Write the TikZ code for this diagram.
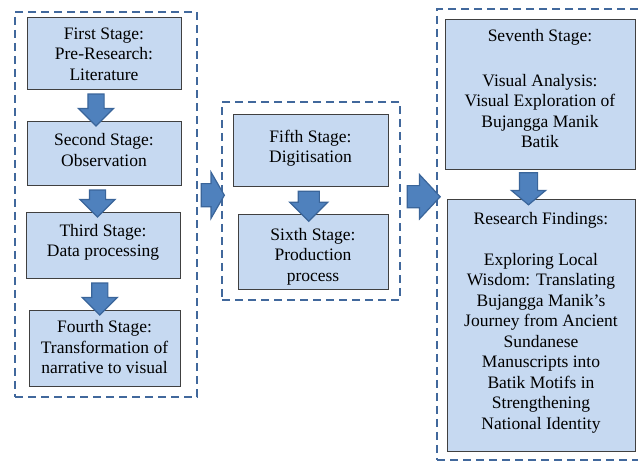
\documentclass[tikz,border=0pt]{standalone}
\usepackage{fontspec}
\setmainfont{Liberation Serif}
\newfontfamily\stagefont{Liberation Serif}
\usetikzlibrary{shapes.arrows,calc}
\definecolor{boxfill}{HTML}{C6D9F1}
\definecolor{boxline}{HTML}{404040}
\definecolor{arrfill}{HTML}{4F81BD}
\definecolor{arrline}{HTML}{3A659A}
\definecolor{dashline}{HTML}{41689C}
\begin{document}
\begin{tikzpicture}[x=1pt,y=-1pt,
  stagebox/.style={draw=boxline, line width=1pt, fill=boxfill, inner sep=0pt},
  stagetext/.style={align=center, inner sep=0pt,
    font=\stagefont\fontsize{17.5}{20.5}\selectfont},
  group/.style={draw=dashline, line width=2pt, dash pattern=on 8pt off 5pt,
    inner sep=0pt},
  blockarrow/.style={single arrow, draw=arrline, fill=arrfill, line width=1.2pt,
    inner sep=0pt}]
\useasboundingbox (0,0) rectangle (638,462);
\fill[white] (0,0) rectangle (638,462);

% dashed groups
\node[group, minimum width=182pt, minimum height=385pt] (g1) at (106,204.5) {};
\node[group, minimum width=178pt, minimum height=198pt] (g2) at (311,201) {};
\begin{scope}
\clip (0,0) rectangle (638,462);
\node[group, minimum width=213pt, minimum height=451pt] (g3) at (543.5,234.5) {};
\end{scope}

% stage boxes
\node[stagebox, minimum width=154pt, minimum height=72pt] (b1) at (104,54) {};
\node[stagebox, minimum width=154pt, minimum height=64pt] (b2) at (104,154) {};
\node[stagebox, minimum width=154pt, minimum height=66pt] (b3) at (103,246) {};
\node[stagebox, minimum width=151pt, minimum height=76pt] (b4) at (104.5,349) {};
\node[stagebox, minimum width=155pt, minimum height=72pt] (b5) at (310.5,151) {};
\node[stagebox, minimum width=150pt, minimum height=75pt] (b6) at (313,252.5) {};
\node[stagebox, minimum width=190pt, minimum height=150pt] (b7) at (540,95) {};
\node[stagebox, minimum width=188pt, minimum height=252pt] (b8) at (541,326) {};

% texts
\node[stagetext] (t1) at ($(b1.center)+(0,0)$) {First Stage:\\Pre-Research:\\Literature};
\node[stagetext] (t2) at ($(b2.center)+(0,-4)$) {Second Stage:\\Observation};
\node[stagetext] (t3) at ($(b3.center)+(0,-3.5)$) {Third Stage:\\Data processing};
\node[stagetext] (t4) at ($(b4.center)+(0,-1.5)$) {Fourth Stage:\\Transformation of\\narrative to visual};
\node[stagetext] (t5) at ($(b5.center)+(0,-3)$) {Fifth Stage:\\Digitisation};
\node[stagetext] (t6) at ($(b6.center)+(0,4)$) {Sixth Stage:\\Production\\process};
\node[stagetext] (t7) at ($(b7.center)+(0,-6)$)
  {Seventh Stage:\\[24pt]Visual Analysis:\\Visual Exploration of\\Bujangga Manik\\Batik};
\node[stagetext] (t8) at ($(b8.center)+(0,-3)$)
  {Research Findings:\\[20pt]Exploring Local\\Wisdom: Translating\\Bujangga Manik’s\\Journey from Ancient\\Sundanese\\Manuscripts into\\Batik Motifs in\\Strengthening\\National Identity};

% block arrows
\node[blockarrow, rotate=-90, inner ysep=7.5pt, single arrow head extend=9.5pt,
  minimum height=32pt, minimum width=34pt] (a1)
  at ($(b1.south)!0.5!(b2.north)+(-8,0)$) {};
\node[blockarrow, rotate=-90, inner ysep=7.5pt, single arrow head extend=9.5pt,
  minimum height=27pt, minimum width=34pt] (a2)
  at ($(b2.south)!0.5!(b3.north)+(-6,0)$) {};
\node[blockarrow, rotate=-90, inner ysep=7.5pt, single arrow head extend=9.5pt,
  minimum height=32pt, minimum width=34pt] (a3)
  at ($(b3.south)!0.5!(b4.north)+(-4,0)$) {};
\node[blockarrow, rotate=-90, inner ysep=10pt, single arrow head extend=8.5pt,
  minimum height=30pt, minimum width=37pt] (a5)
  at ($(b5.south)!0.5!(b6.north)+(-3,0)$) {};
\node[blockarrow, rotate=-90, inner ysep=8.5pt, single arrow head extend=8pt,
  single arrow tip angle=100, minimum height=32pt, minimum width=33pt] (a7)
  at ($(b7.south)!0.5!(b8.north)+(-12,0)$) {};
\node[blockarrow, inner ysep=11pt, single arrow head extend=11.5pt,
  single arrow tip angle=120, minimum height=23pt, minimum width=45pt] (h1)
  at ($(g1.east)!0.5!(g2.west)+(0,-7.5)$) {};
\node[blockarrow, inner ysep=10.5pt, single arrow head extend=11pt,
  single arrow tip angle=94, minimum height=33pt, minimum width=43pt] (h2)
  at ($(g2.east)!0.5!(g3.west)+(0,-21)$) {};
\end{tikzpicture}
\end{document}
